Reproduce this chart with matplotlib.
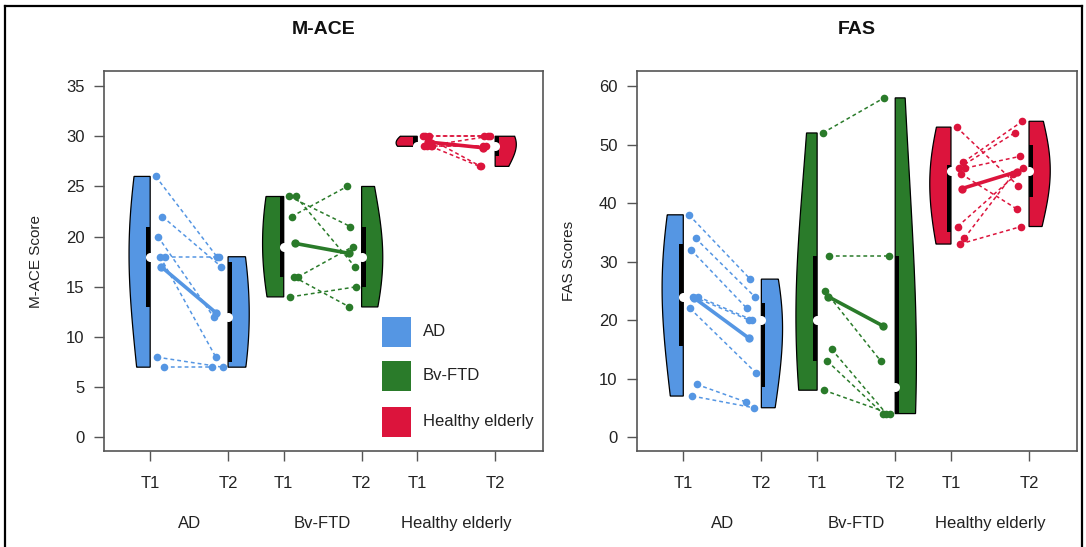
import numpy as np
import matplotlib
matplotlib.use("Agg")
import matplotlib.pyplot as plt
from matplotlib.lines import Line2D
from matplotlib.patches import Rectangle, Polygon
from matplotlib.transforms import blended_transform_factory

plt.rcParams['font.family'] = ['Liberation Sans', 'DejaVu Sans']

# ---------------- data ----------------
groups = ["AD", "Bv-FTD", "Healthy elderly"]
time_labels = ["T1", "T2"]
group_colors = ["#5596E3", "#2A7B2A", "#DC143C"]

mace_ad_t1 = [26, 22, 20, 18, 18, 8, 7]
mace_ad_t2 = [18, 17, 12, 18, 8, 7, 7]
mace_bv_t1 = [24, 24, 22, 16, 16, 14]
mace_bv_t2 = [21, 17, 25, 19, 13, 15]
mace_he_t1 = [30, 30, 30, 29, 29, 29, 29]
mace_he_t2 = [30, 30, 27, 29, 29, 30, 27]

fas_ad_t1 = [38, 34, 32, 24, 24, 22, 9, 7]
fas_ad_t2 = [27, 24, 22, 20, 20, 11, 6, 5]
fas_bv_t1 = [52, 31, 25, 15, 13, 8]
fas_bv_t2 = [58, 31, 13, 4, 4, 4]
fas_he_t1 = [53, 47, 46, 46, 45, 36, 34, 33]
fas_he_t2 = [43, 54, 52, 48, 39, 46, 45, 36]

mace_yticks = [0, 5, 10, 15, 20, 25, 30, 35]
fas_yticks = [0, 10, 20, 30, 40, 50, 60]

panels = [
    dict(title="M-ACE", ylabel="M-ACE Score", yticks=mace_yticks, ylim=(-1.35, 36.5),
         data=[(mace_ad_t1, mace_ad_t2), (mace_bv_t1, mace_bv_t2), (mace_he_t1, mace_he_t2)],
         legend=True),
    dict(title="FAS", ylabel="FAS Scores", yticks=fas_yticks, ylim=(-2.4, 62.6),
         data=[(fas_ad_t1, fas_ad_t2), (fas_bv_t1, fas_bv_t2), (fas_he_t1, fas_he_t2)],
         legend=False),
]

# ---------------- helpers ----------------
def fivenum(x):
    x = np.sort(np.asarray(x, float))
    n = len(x)
    n4 = np.floor((n + 3) / 2) / 2
    d = np.array([1, n4, (n + 1) / 2, n + 1 - n4, n]) - 1
    return 0.5 * (x[np.floor(d).astype(int)] + x[np.ceil(d).astype(int)])


def half_width(vals, grid, maxw):
    v = np.asarray(vals, float)
    n = len(v)
    h = 1.7 * v.std(ddof=1) * (4.0 / (3.0 * n)) ** 0.2
    dens = np.exp(-0.5 * ((grid[:, None] - v[None, :]) / h) ** 2).sum(axis=1)
    return dens / dens.max() * maxw


def draw_violin(ax, vals, pos, side, color):
    lo, hi = min(vals), max(vals)
    grid = np.linspace(lo, hi, 300)
    w = half_width(vals, grid, 0.38)
    xs = pos + side * w
    pts = [(pos, lo)] + list(zip(xs, grid)) + [(pos, hi)]
    ax.add_patch(Polygon(pts, closed=True, facecolor=color, edgecolor='black',
                         lw=0.9, zorder=2))
    f = fivenum(vals)
    bw = 0.07
    x0 = pos - bw if side < 0 else pos
    ax.add_patch(Rectangle((x0, f[1]), bw, f[3] - f[1], facecolor='black',
                           edgecolor='none', zorder=3))
    ax.plot([pos], [f[2]], 'o', color='white', ms=6.5, mec='none', zorder=4)


fig = plt.figure(figsize=(10.86, 5.47), dpi=100)
W, H = 1086.0, 547.0
axes_px = [(104, 71, 543, 451), (637, 71, 1077, 451)]

pos_t1 = [1.0, 3.4, 5.8]
pos_t2 = [2.4, 4.8, 7.2]
tick_pos = [1.0, 2.4, 3.4, 4.8, 5.8, 7.2]
tick_lab = time_labels * 3
jit1 = [0.10, 0.22, 0.14, 0.26, 0.18, 0.12, 0.24, 0.16]
jit2 = [0.20, 0.12, 0.26, 0.16, 0.22, 0.10, 0.28, 0.14]

for (x0, y0, x1, y1), pan in zip(axes_px, panels):
    ax = fig.add_axes([x0 / W, 1 - y1 / H, (x1 - x0) / W, (y1 - y0) / H])
    ax.set_xlim(0.17, 8.06)
    ax.set_ylim(*pan['ylim'])
    for gi, (t1, t2) in enumerate(pan['data']):
        c = group_colors[gi]
        p1, p2 = pos_t1[gi], pos_t2[gi]
        draw_violin(ax, t1, p1, -1, c)
        draw_violin(ax, t2, p2, +1, c)
        for i, (a, b) in enumerate(zip(t1, t2)):
            xa = p1 + jit1[i % len(jit1)]
            xb = p2 - jit2[i % len(jit2)]
            ax.plot([xa, xb], [a, b], color=c, lw=1.1, ls=(0, (2.5, 2)), zorder=5)
            ax.plot([xa, xb], [a, b], 'o', color=c, ms=5.5, mec='none', zorder=6)
        m1, m2 = np.mean(t1), np.mean(t2)
        ax.plot([p1 + 0.2, p2 - 0.22], [m1, m2], color=c, lw=2.6, zorder=7,
                solid_capstyle='round')
        ax.plot([p1 + 0.2, p2 - 0.22], [m1, m2], 'o', color=c, ms=6, mec='none', zorder=7)

    ax.set_xticks(tick_pos)
    ax.set_xticklabels(tick_lab)
    ax.set_yticks(pan['yticks'])
    ax.tick_params(axis='y', length=7, width=1.0, pad=7, labelsize=12,
                   colors='#555555', labelcolor='#222222')
    ax.tick_params(axis='x', length=7, width=1.0, pad=11, labelsize=12,
                   colors='#555555', labelcolor='#222222')
    for sp in ax.spines.values():
        sp.set_color('#555555')
        sp.set_linewidth(1.2)

    trans = blended_transform_factory(ax.transData, ax.transAxes)
    for gi, g in enumerate(groups):
        ax.text((pos_t1[gi] + pos_t2[gi]) / 2, -0.19, g, transform=trans,
                ha='center', va='center', fontsize=12, color='#222222')
    ax.text(0.5, 1.108, pan['title'], transform=ax.transAxes, ha='center',
            va='center', fontsize=14, fontweight='bold', color='#111111')
    ax.text(-0.155, 0.5, pan['ylabel'], transform=ax.transAxes, rotation=90,
            ha='center', va='center', fontsize=11, color='#222222')

    if pan['legend']:
        aw, ah = x1 - x0, y1 - y0
        centers = [332, 376, 421.5]
        for gi, g in enumerate(groups):
            cy = centers[gi]
            ax.add_patch(Rectangle(((382 - x0) / aw, (y1 - cy - 15) / ah), 29 / aw, 30 / ah,
                                   transform=ax.transAxes, facecolor=group_colors[gi],
                                   edgecolor='none', zorder=8, clip_on=False))
            ax.text((423 - x0) / aw, (y1 - cy) / ah, g, transform=ax.transAxes,
                    ha='left', va='center', fontsize=12, color='#222222', zorder=8)

# outer frame
fx0, fx1, fy = 5 / W, 1082 / W, 1 - 6 / H
fig.add_artist(Line2D([fx0, fx0], [0, fy], color='black', lw=1.6))
fig.add_artist(Line2D([fx0, fx1], [fy, fy], color='black', lw=1.6))
fig.add_artist(Line2D([fx1, fx1], [0, fy], color='black', lw=1.6))

fig.savefig("out.png", dpi=100)
